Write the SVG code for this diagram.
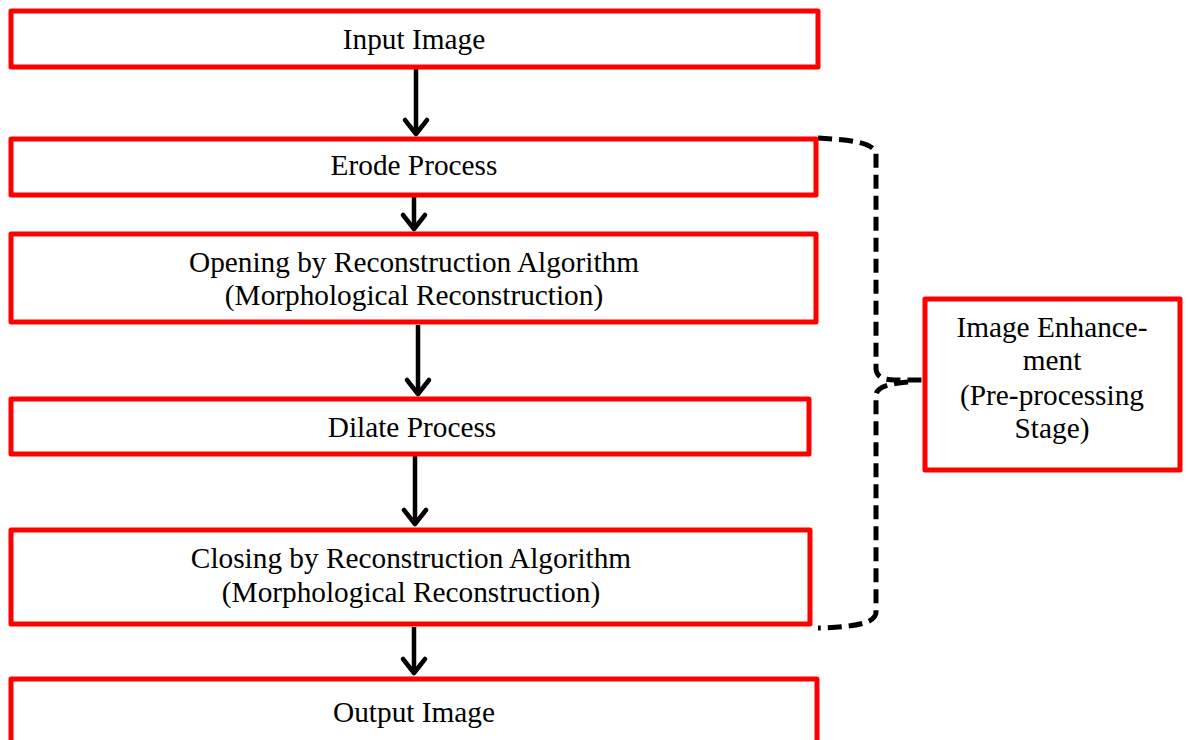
<svg xmlns="http://www.w3.org/2000/svg" width="1190" height="740" viewBox="0 0 1190 740">
<style>
.box{fill:#fff;stroke:#ff0000;stroke-width:5;stroke-linejoin:round}
.t{font-family:"Liberation Serif","Times New Roman",serif;font-size:29.3px;fill:#000;text-anchor:middle}
.arr{stroke:#000;stroke-width:4.5;fill:none}
.head{stroke:#000;stroke-width:4.5;fill:none;stroke-linecap:round;stroke-linejoin:round}
.br{stroke:#000;stroke-width:5;fill:none;stroke-dasharray:14 7}
</style>
<rect width="1190" height="740" fill="#fff"/>
<g id="connectors">
<line class="arr" x1="416" y1="69" x2="416" y2="134"/>
<polyline class="head" points="405,120 416,134 427,120"/>
<line class="arr" x1="414" y1="197" x2="414" y2="229"/>
<polyline class="head" points="403,215 414,229 425,215"/>
<line class="arr" x1="418" y1="325" x2="418" y2="394"/>
<polyline class="head" points="407,380 418,394 429,380"/>
<line class="arr" x1="415" y1="456" x2="415" y2="524"/>
<polyline class="head" points="404,510 415,524 426,510"/>
<line class="arr" x1="414" y1="627" x2="414" y2="673"/>
<polyline class="head" points="403,659 414,673 425,659"/>
<path class="br" d="M818,138 C850,140 870,142 876,152 L876,368 C876,376 882,380 895,380 L925,380"/>
<path class="br" d="M908,382 C885,384 876,388 876,396 L876,612 C876,622 860,627 818,628"/>
</g>
<g id="input"><rect class="box" x="11" y="11" width="807" height="56"/><text class="t" x="414" y="49">Input Image</text></g>
<g id="erode"><rect class="box" x="11" y="139" width="805" height="56"/><text class="t" x="414" y="175">Erode Process</text></g>
<g id="opening"><rect class="box" x="11" y="234" width="805" height="88"/><text class="t" x="414" y="272">Opening by Reconstruction Algorithm</text><text class="t" x="414" y="305">(Morphological Reconstruction)</text></g>
<g id="dilate"><rect class="box" x="11" y="399" width="798" height="55"/><text class="t" x="412" y="437">Dilate Process</text></g>
<g id="closing"><rect class="box" x="11" y="530" width="799" height="94"/><text class="t" x="411" y="568">Closing by Reconstruction Algorithm</text><text class="t" x="411" y="602">(Morphological Reconstruction)</text></g>
<g id="output"><rect class="box" x="11" y="679" width="806" height="70"/><text class="t" x="414" y="722">Output Image</text></g>
<g id="enh"><rect class="box" x="925" y="299" width="255" height="171"/><text class="t" x="1052" y="337">Image Enhance-</text><text class="t" x="1052" y="370">ment</text><text class="t" x="1052" y="405">(Pre-processing</text><text class="t" x="1052" y="438">Stage)</text></g>
</svg>
